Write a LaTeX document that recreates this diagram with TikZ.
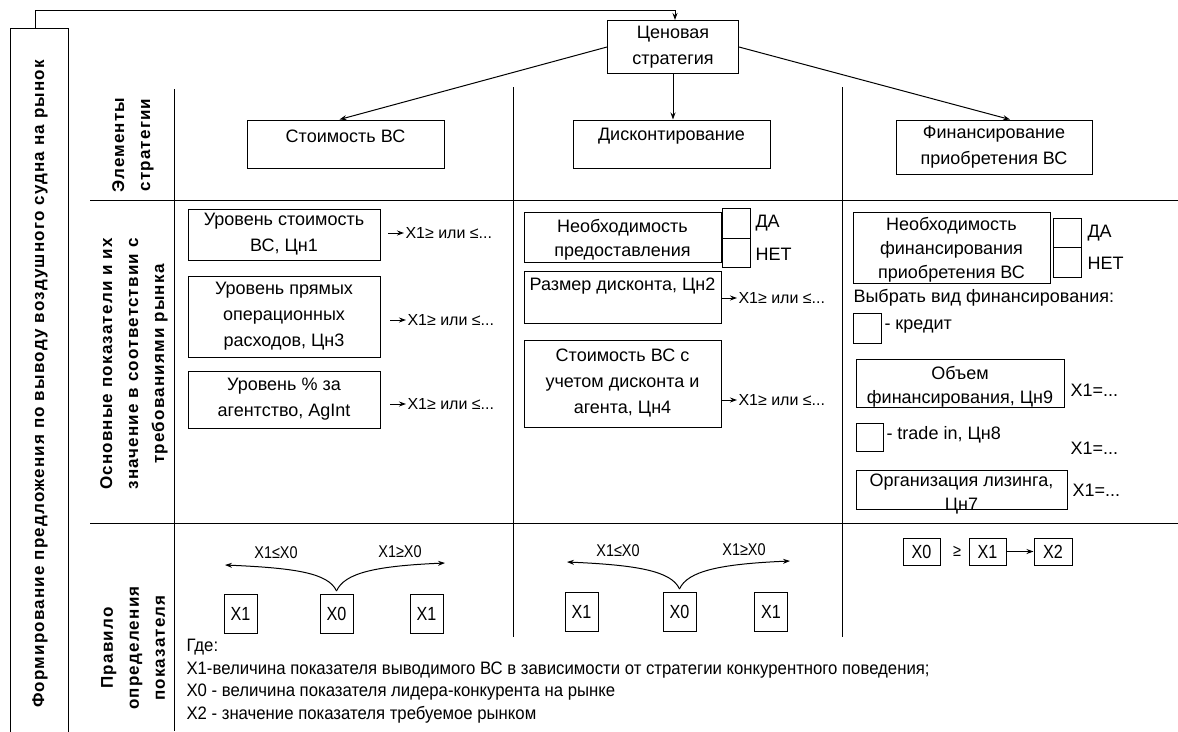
\documentclass[tikz,border=0pt]{standalone}
\usepackage{fontspec}
\setmainfont{Liberation Sans}
\newfontfamily\lblfont[LetterSpace=7]{Liberation Sans}
\newfontfamily\narrowfont[FakeStretch=0.85]{Liberation Sans}
\newfontfamily\legfont[FakeStretch=0.93]{Liberation Sans}
\usetikzlibrary{arrows.meta}

\newcommand\txtsize{\fontsize{18}{26}\selectfont}
\newcommand\smsize{\fontsize{16}{20}\selectfont}

\tikzset{
	blk/.style={draw, align=center, inner sep=0pt, font=\txtsize},
	txt/.style={align=center, inner sep=0pt, font=\fontsize{18}{24}\selectfont},
	chk/.style={draw, inner sep=0pt, minimum width=28pt, minimum height=29pt},
	note/.style={anchor=west, inner sep=0pt, font=\txtsize},
	res/.style={anchor=west, inner sep=0pt, font=\smsize},
	xbox/.style={draw, inner sep=0pt, minimum width=33pt, minimum height=39pt, font=\narrowfont\fontsize{19}{22}\selectfont},
	cmp/.style={inner sep=0pt, font=\narrowfont\fontsize{17}{20}\selectfont},
	lbl/.style={rotate=90, align=center, inner sep=0pt, font=\lblfont\bfseries\fontsize{17}{26}\selectfont},
	arr/.style={-{Stealth[length=7pt,width=5pt]}},
}

\begin{document}
\begin{tikzpicture}[x=1pt, y=-1pt, line width=1pt]
	\useasboundingbox (0,0) rectangle (1178,731);
	
	% frame and row labels
	\node[draw, minimum width=58pt, minimum height=730pt, anchor=north west] (frame) at (10,28) {};
	\node[lbl] (outer) at (40,384) {Формирование предложения по выводу воздушного судна на рынок};
	\node[lbl] (lb1) at (133,145) {Элементы\\стратегии};
	\node[lbl] (lb2) at (134,364) {Основные показатели и их\\значение в соответствии с\\требованиями рынка};
	\node[lbl] (lb3) at (133,648) {Правило\\определения\\показателя};
	
	\draw (174,89) -- (174,731);
	\foreach \y in {200,523}
	{\draw (90,\y) -- (1178,\y);}
	\foreach \x in {513,842}
	{\draw (\x,87) -- (\x,637);}
	
	% strategy
	\node[blk, minimum width=131pt, minimum height=53pt] (cen) at (673,47) {Ценовая\\стратегия};
	\coordinate (fb) at (675,10);
	\draw[arr] ([xshift=-4pt]frame.north) |- (fb) -- (fb |- cen.north);
	
	\node[blk, minimum width=197pt, minimum height=48pt] (st) at (345.5,144) {};
	\node[txt] (stt) at (345.5,136) {Стоимость ВС};
	\node[blk, minimum width=197pt, minimum height=48pt] (dis) at (671.5,144) {};
	\node[txt] (dist) at (671.5,136) {Дисконтирование};
	\node[blk, minimum width=196pt, minimum height=54pt] (fin) at (994,147) {Финансирование\\приобретения ВС};
	\draw[arr] (cen.west) -- ([xshift=-6pt]st.north);
	\draw[arr] (cen.south) -- (cen.south |- dis.north);
	\draw[arr] (cen.east) -- ([xshift=16pt]fin.north);
	
	% column 1
	\node[blk, minimum width=192pt, minimum height=51pt] (c1a) at (284,234.5) {Уровень стоимость\\ВС, Цн1};
	\node[blk, minimum width=192pt, minimum height=81pt] (c1b) at (284,316.5) {Уровень прямых\\операционных\\расходов, Цн3};
	\node[blk, minimum width=192pt, minimum height=57pt] (c1c) at (284,399.5) {Уровень \% за\\агентство, AgInt};
	\node[res] (r1a) at (405,233) {X1≥ или ≤...};
	\node[res] (r1b) at (407,320) {X1≥ или ≤...};
	\node[res] (r1c) at (407,404) {X1≥ или ≤...};
	\foreach \r in {r1a,r1b,r1c}
	{\draw[arr] ([xshift=-17pt]\r.west) -- ([xshift=-1pt]\r.west);}
	
	% column 2
	\node[blk, minimum width=197pt, minimum height=50pt] (c2a) at (622.5,237) {};
	\node[txt] (c2at) at (622.5,240) {Необходимость\\предоставления};
	\node[chk, minimum height=30pt] (yn2a) at (736.5,223) {};
	\node[chk] (yn2b) at (736.5,252.5) {};
	\node[note] (da2) at (755,223) {ДА};
	\node[note] (net2) at (755,254) {НЕТ};
	\node[blk, minimum width=197pt, minimum height=52pt] (c2b) at (622.5,297) {};
	\node[txt] (c2bt) at (622.5,286) {Размер дисконта, Цн2};
	\node[blk, minimum width=197pt, minimum height=87pt] (c2c) at (622.5,383.5) {Стоимость ВС с\\учетом дисконта и\\агента, Цн4};
	\node[res] (r2b) at (738,298) {X1≥ или ≤...};
	\node[res] (r2c) at (738,400) {X1≥ или ≤...};
	\foreach \r in {r2b,r2c}
	{\draw[arr] ([xshift=-17pt]\r.west) -- ([xshift=-1pt]\r.west);}
	
	% column 3
	\node[blk, minimum width=197pt, minimum height=71pt] (c3a) at (951.5,247.5) {};
	\node[txt] (c3at) at (951.5,250) {Необходимость\\финансирования\\приобретения ВС};
	\node[chk] (yn3a) at (1067,232.5) {};
	\node[chk, minimum height=30pt] (yn3b) at (1067,262) {};
	\node[note] (da3) at (1087,233) {ДА};
	\node[note] (net3) at (1087,263) {НЕТ};
	\node[note] (vyb) at (853,298) {Выбрать вид финансирования:};
	\node[chk, minimum height=30pt] (kb) at (867,328) {};
	\node[note] (kr) at (884,327) {- кредит};
	\node[blk, minimum width=208pt, minimum height=48pt] (c3b) at (960,383) {};
	\node[txt] (c3bt) at (960,387) {Объем\\финансирования, Цн9};
	\node[note] (r3b) at (1070,390) {X1=...};
	\node[chk, minimum width=27pt, minimum height=28pt] (tb) at (869.5,437) {};
	\node[note] (tr) at (886,435) {- trade in, Цн8};
	\node[note] (r3t) at (1070,448) {X1=...};
	\node[blk, minimum width=211pt, minimum height=39pt] (c3c) at (961.5,489.5) {};
	\node[txt] (c3ct) at (961.5,494.5) {Организация лизинга,\\Цн7};
	\node[note] (r3c) at (1072,490) {X1=...};
	
	% rule row
	\foreach \n/\x/\y/\t in {a1/240.5/614/X1, a0/336.5/614/X0, a2/426.5/614/X1,
		b1/581.5/612/X1, b0/679.5/612/X0, b2/771/612/X1}
	{\node[xbox] (\n) at (\x,\y) {\t};}
	\coordinate (al) at (225,565);
	\coordinate (ar) at (445,563);
	\coordinate (bl) at (567,562);
	\coordinate (br) at (790,561);
	\draw[arr] ([yshift=3pt]a0.north) .. controls +(-8,-18) and +(70,3) .. (al);
	\draw[arr] ([yshift=3pt]a0.north) .. controls +(8,-18) and +(-70,3) .. (ar);
	\draw[arr] ([yshift=3pt]b0.north) .. controls +(-8,-18) and +(70,3) .. (bl);
	\draw[arr] ([yshift=3pt]b0.north) .. controls +(8,-18) and +(-70,3) .. (br);
	\node[cmp] (la) at (276,553) {X1≤X0};
	\node[cmp] (ga) at (400,552) {X1≥X0};
	\node[cmp] (lb) at (618,551) {X1≤X0};
	\node[cmp] (gb) at (744,550) {X1≥X0};
	
	\node[xbox, minimum width=37pt, minimum height=27pt] (c0) at (921.5,551.5) {X0};
	\node[cmp] (ge) at (957,551) {≥};
	\node[xbox, minimum width=37pt, minimum height=27pt] (c1) at (987.5,551.5) {X1};
	\node[xbox, minimum width=38pt, minimum height=27pt] (c2) at (1053,551.5) {X2};
	\draw[arr] (c1) -- (c2);
	
	% legend
	\node[anchor=north west, align=left, inner sep=0pt, font=\legfont\fontsize{18}{22.5}\selectfont] (leg) at (186,639)
	{Где:\\X1-величина показателя выводимого ВС в зависимости от стратегии конкурентного поведения;\\X0 - величина показателя лидера-конкурента на рынке\\X2 - значение показателя требуемое рынком};
\end{tikzpicture}
\end{document}
